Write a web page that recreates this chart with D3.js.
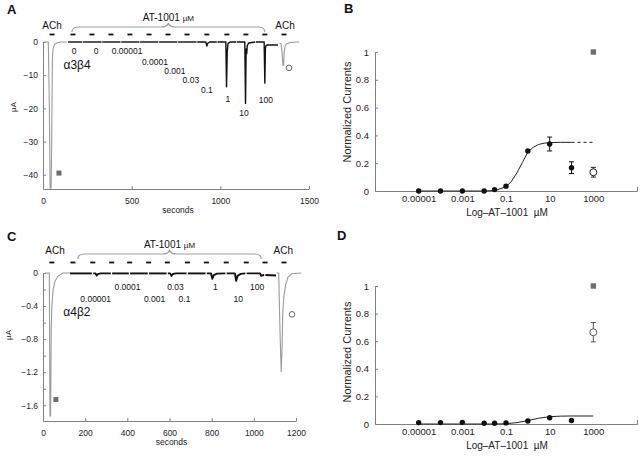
<!DOCTYPE html>
<html><head><meta charset="utf-8">
<script src="https://cdn.jsdelivr.net/npm/d3@7"></script>
<style>body{margin:0;background:#fff} text{font-family:"Liberation Sans",Arial,Helvetica,sans-serif}</style>
</head><body><svg id="c" width="640" height="456"></svg>
<script>
// ---------------- Panel A (alpha3beta4 trace) ----------------
const aTicksX = [0, 500, 1000, 1500];
const aTicksY = [0, -10, -20, -30, -40];
const aAChPre = [[5,0],[30,0],[36,-20],[40,-44],[46,-44],[49,-30],[53,-5],[57,-2],[65,-0.7],[80,-0.2],[100,0],[135,0]];
const aAT1001 = [
  [[141,0],[222,0]],
  [[226,0],[330,0]],
  [[334,0],[437,0]],
  [[441,0],[544,0]],
  [[548,0],[651,0]],
  [[655,0],[758,0]],
  [[762,0],[866,0]],
  [[870,0],[918,0],[924,-1.2],[930,-0.3],[940,0],[980,0]],
  [[984,0],[1031,0],[1035,-13.5],[1039,-3],[1043,-0.5],[1055,0],[1090,0]],
  [[1094,0],[1138,0],[1142,-18.5],[1145,-4],[1147,-2],[1149,-3.5],[1152,-1],[1160,-0.3],[1197,0]],
  [[1201,0],[1247,0],[1251,-12.4],[1254,-2],[1258,-1],[1265,-0.9],[1325,-0.9]]
];
const aAChPost = [[1334,-0.3],[1342,-0.6],[1348,-3],[1353,-7],[1357,-7],[1360,-3],[1365,-1.2],[1375,-0.5],[1395,-0.15],[1430,0],[1445,0]];
const aSquare = [[90, -39.5]];
const aCircle = [[1387, -7.8]];
const aDashes = [51,169,276,383,490,598,705,812,924,1037,1144,1251,1359];
const aConcLabels = ["0","0","0.00001","0.0001","0.001","0.03","0.1","1","10","100"];
const aConcT      = [175,299,474,631,744,834,924,1043,1133,1257];
const aConcI      = [-2.8,-2.8,-2.8,-6.0,-8.7,-11.4,-14.5,-17.2,-21.4,-17.5];
const aBrace = [163, 1251];
const aAChLabelT = [51, 1365];

// ---------------- Panel C (alpha4beta2 trace) ----------------
const cTicksX = [0, 200, 400, 600, 800, 1000, 1200];
const cTicksY = [0, -0.2, -0.4, -0.6, -0.8, -1.0, -1.2, -1.4, -1.6];
const cAChPre = [[10,0],[30,0],[33,-1.73],[36,-1.73],[39,-0.7],[42,-0.4],[48,-0.2],[57,-0.1],[70,-0.04],[94,0],[128,0]];
const cAT1001 = [
  [[128,-0.005],[232,-0.005]],
  [[238,-0.005],[249,-0.005],[255,-0.03],[262,-0.01],[275,-0.005],[322,-0.005]],
  [[328,-0.005],[407,-0.005]],
  [[413,-0.005],[497,-0.005]],
  [[503,-0.005],[586,-0.005]],
  [[592,-0.005],[603,-0.005],[609,-0.035],[616,-0.012],[630,-0.005],[681,-0.005]],
  [[687,-0.005],[771,-0.005]],
  [[777,-0.005],[797,-0.005],[803,-0.07],[810,-0.025],[825,-0.008],[865,-0.005]],
  [[871,-0.005],[910,-0.005],[916,-0.095],[923,-0.035],[938,-0.01],[960,-0.005]],
  [[966,-0.005],[1029,-0.005],[1035,-0.035],[1045,-0.025],[1049,-0.025]],
  [[1055,-0.025],[1105,-0.03]]
];
const cAChPost = [[1108,0],[1118,0],[1124,-0.7],[1130,-1.2],[1134,-0.9],[1137,-0.5],[1142,-0.3],[1150,-0.15],[1162,-0.05],[1180,-0.01],[1225,0]];
const cSquare = [[61, -1.53]];
const cCircle = [[1181, -0.5]];
const cDashes = [42,142,236,326,411,501,590,685,775,869,964,1053,1143];
const cConcLabels = ["0.0001","0.03","1","100","0.00001","0.001","0.1","10"];
const cConcT      = [401,628,817,1016,250,529,671,926];
const cConcI      = [-0.17,-0.17,-0.17,-0.17,-0.31,-0.31,-0.31,-0.31];
const cBrace = [165, 1035];
const cAChLabelT = [57, 1140];

// ---------------- Panels B & D (dose response) ----------------
const concUM = [0.00001, 0.0001, 0.001, 0.01, 0.03, 0.1, 1, 10, 100];
const doseTickVals = [0.00001, 0.001, 0.1, 10, 1000];
const doseTickLabels = ["0.00001", "0.001", "0.1", "10", "1000"];
const normTicks = [0, 0.2, 0.4, 0.6, 0.8, 1];

const bMean = [0, 0, 0, 0, 0.01, 0.035, 0.288, 0.338, 0.168];
const bErr  = [0, 0, 0, 0, 0, 0, 0, 0.05, 0.042];
const bAChPost = {conc: 1000, mean: 0.135, err: 0.035};
const bAChPre  = {conc: 1000, mean: 1.0};
const bFitLogX = [-5, -2, -1.5, -1, -0.75, -0.5, -0.25, 0, 0.25, 0.5, 0.75, 1, 1.5, 2];
const bFitY    = [0, 0, 0.004, 0.03, 0.07, 0.13, 0.205, 0.28, 0.315, 0.335, 0.344, 0.348, 0.35, 0.35];
const bExtLogX = [2, 3];
const bExtY    = [0.35, 0.35];

const dMean = [0.01, 0.01, 0.012, 0.005, 0.005, 0.008, 0.022, 0.045, 0.025];
const dErr  = [0, 0, 0, 0, 0, 0, 0, 0, 0];
const dAChPost = {conc: 1000, mean: 0.665, err: 0.07};
const dAChPre  = {conc: 1000, mean: 1.0};
const dFitLogX = [-5, -1.5, -1, -0.5, 0, 0.5, 1, 1.5, 2, 3];
const dFitY    = [0, 0, 0.002, 0.01, 0.025, 0.042, 0.053, 0.057, 0.058, 0.058];

// ---------------- drawing ----------------
const svg = d3.select("#c");
svg.append("rect").attr("width", 640).attr("height", 456).attr("fill", "#fff");
const AX = "#808080";

function styleAxis(sel, fs) {
  sel.selectAll("path,line").attr("stroke", AX).attr("stroke-width", 1);
  sel.selectAll("text").attr("font-size", fs).attr("fill", "#222").attr("font-family", '"Liberation Sans",Arial,sans-serif');
}

function tracePanel(c) {
  const g = svg.append("g");
  const x = d3.scaleLinear().domain(c.xDomain).range(c.xRange);
  const y = d3.scaleLinear().domain(c.yDomain).range(c.yRange);
  const xa = g.append("g").attr("transform", `translate(0,${c.yRange[0]})`)
    .call(d3.axisBottom(x).tickValues(c.xTicks).tickSizeInner(-3).tickSizeOuter(0).tickPadding(9).tickFormat(d3.format("d")));
  styleAxis(xa, 8.5);
  const ya = g.append("g").attr("transform", `translate(${c.xRange[0]},0)`)
    .call(d3.axisLeft(y).tickValues(c.yTicks).tickSizeInner(-3).tickSizeOuter(0).tickPadding(5).tickFormat(c.yFmt));
  styleAxis(ya, 8.5);
  g.append("text").attr("x", (c.xRange[0] + c.xRange[1]) / 2 + 2).attr("y", c.yRange[0] + 24)
    .attr("text-anchor", "middle").attr("font-size", 8.5).attr("fill", "#222").text("seconds");
  g.append("text").attr("transform", `translate(${c.uaX},${c.uaY}) rotate(-90)`)
    .attr("text-anchor", "middle").attr("dominant-baseline", "central").attr("font-size", 8).attr("fill", "#222").text("µA");
  const line = d3.line().x(d => x(d[0])).y(d => y(d[1]));
  g.append("path").attr("d", line(c.pre)).attr("fill", "none").attr("stroke", "#9a9a9a").attr("stroke-width", 1.1);
  g.append("path").attr("d", line(c.post)).attr("fill", "none").attr("stroke", "#9a9a9a").attr("stroke-width", 1.1);
  c.at.forEach(seg => g.append("path").attr("d", line(seg)).attr("fill", "none").attr("stroke", "#111").attr("stroke-width", c.atWidth).attr("stroke-linejoin", "round"));
  c.square.forEach(d => g.append("rect").attr("x", x(d[0]) - 2.5).attr("y", y(d[1]) - 2.5).attr("width", 5).attr("height", 5).attr("fill", "#6e6e6e"));
  c.circle.forEach(d => g.append("circle").attr("cx", x(d[0])).attr("cy", y(d[1])).attr("r", 2.8).attr("fill", "#fff").attr("stroke", "#555").attr("stroke-width", 0.9));
  c.dashes.forEach(t => g.append("line").attr("x1", x(t) - 2.5).attr("x2", x(t) + 2.5).attr("y1", c.dashY).attr("y2", c.dashY).attr("stroke", "#111").attr("stroke-width", 1.8));
  c.labels.forEach((s, i) => g.append("text").attr("x", x(c.labT[i])).attr("y", y(c.labI[i])).attr("text-anchor", "middle")
    .attr("dominant-baseline", "central").attr("font-size", 8.5).attr("fill", "#111").text(s));
  // receptor name
  g.append("text").attr("x", x(c.rec[1])).attr("y", y(c.rec[2])).attr("text-anchor", "middle").attr("dominant-baseline", "central")
    .attr("font-family", '"Liberation Serif","DejaVu Serif",serif').attr("font-size", 12).attr("fill", "#111").text(c.rec[0]);
  // brace
  const bx0 = x(c.brace[0]), bx1 = x(c.brace[1]), bm = (bx0 + bx1) / 2, by = c.braceY;
  g.append("path").attr("d", `M${bx0},${by + 5} Q${bx0},${by} ${bx0 + 7},${by} L${bm - 7},${by} Q${bm - 1},${by} ${bm},${by - 4} Q${bm + 1},${by} ${bm + 7},${by} L${bx1 - 7},${by} Q${bx1},${by} ${bx1},${by + 5}`)
    .attr("fill", "none").attr("stroke", "#a0a0a0").attr("stroke-width", 1.2);
  g.append("text").attr("x", bm).attr("y", by - 6).attr("text-anchor", "middle").attr("font-size", 10).attr("fill", "#111")
    .text("AT-1001 ").append("tspan").attr("font-size", 8).text("µM");
  c.achT.forEach(t => g.append("text").attr("x", x(t)).attr("y", c.achY).attr("text-anchor", "middle").attr("font-size", 10).attr("fill", "#111").text("ACh"));
  // panel letter
  g.append("text").attr("x", c.letter[1]).attr("y", c.letter[2]).attr("font-weight", "bold").attr("font-size", 13).attr("fill", "#111").text(c.letter[0]);
}

tracePanel({
  xDomain: [0, 1500], xRange: [43, 309], yDomain: [-44.3, 0], yRange: [189, 42],
  xTicks: aTicksX, yTicks: aTicksY, yFmt: d3.format("d"),
  uaX: 13, uaY: 107,
  pre: aAChPre, post: aAChPost, at: aAT1001, atWidth: 1.4,
  square: aSquare, circle: aCircle, dashes: aDashes, dashY: 34.5,
  labels: aConcLabels, labT: aConcT, labI: aConcI,
  rec: ["α3β4", 192, -7.0],
  brace: aBrace, braceY: 27, achT: aAChLabelT, achY: 29,
  letter: ["A", 7, 14]
});

tracePanel({
  xDomain: [0, 1200], xRange: [43, 296], yDomain: [-1.79, 0], yRange: [421, 273],
  xTicks: cTicksX, yTicks: cTicksY, yFmt: d => (Math.abs(d * 10) % 4 === 0 ? (d === 0 ? "0" : d3.format(".1f")(d)) : ""),
  uaX: 8, uaY: 335,
  pre: cAChPre, post: cAChPost, at: cAT1001, atWidth: 1.9,
  square: cSquare, circle: cCircle, dashes: cDashes, dashY: 262.5,
  labels: cConcLabels, labT: cConcT, labI: cConcI,
  rec: ["α4β2", 161, -0.47],
  brace: cBrace, braceY: 254, achT: cAChLabelT, achY: 254,
  letter: ["C", 7, 241]
});

function dosePanel(c) {
  const g = svg.append("g");
  const x = d3.scaleLinear().domain([-7, 5]).range([375, 637]);
  const y = d3.scaleLinear().domain([0, 1]).range(c.yRange);
  const lx = v => x(Math.log10(v));
  const xa = g.append("g").attr("transform", `translate(0,${c.yRange[0]})`)
    .call(d3.axisBottom(x).tickValues(doseTickVals.map(Math.log10)).tickSizeInner(0).tickSizeOuter(-4).tickPadding(4)
      .tickFormat((d, i) => doseTickLabels[i]));
  styleAxis(xa, 9.5);
  const ya = g.append("g").attr("transform", "translate(375,0)")
    .call(d3.axisLeft(y).tickValues(normTicks).tickSizeInner(-3).tickSizeOuter(0).tickPadding(6)
      .tickFormat(d => (d === 0 || d === 1) ? String(d) : d3.format(".1f")(d)));
  styleAxis(ya, 9.5);
  g.append("text").attr("x", 507).attr("y", c.yRange[0] + 25).attr("text-anchor", "middle").attr("font-size", 10).attr("fill", "#222")
    .text("Log\u2013AT\u20131001\u00A0 µM");
  g.append("text").attr("transform", `translate(347,${c.titleY}) rotate(-90)`).attr("text-anchor", "middle")
    .attr("dominant-baseline", "central").attr("font-size", 11).attr("fill", "#222").text("Normalized Currents");
  const line = d3.line().x(d => x(d[0])).y(d => y(d[1]));
  g.append("path").attr("d", line(c.fitX.map((v, i) => [v, c.fitY[i]]))).attr("fill", "none").attr("stroke", "#222").attr("stroke-width", 1);
  if (c.extX) g.append("path").attr("d", line(c.extX.map((v, i) => [v, c.extY[i]]))).attr("fill", "none").attr("stroke", "#222").attr("stroke-width", 1).attr("stroke-dasharray", "3,3");
  // error bars
  const eb = (cx, m, e, col) => {
    if (!e) return;
    g.append("line").attr("x1", cx).attr("x2", cx).attr("y1", y(m - e)).attr("y2", y(m + e)).attr("stroke", col).attr("stroke-width", 1);
    [m - e, m + e].forEach(v => g.append("line").attr("x1", cx - 2.5).attr("x2", cx + 2.5).attr("y1", y(v)).attr("y2", y(v)).attr("stroke", col).attr("stroke-width", 1));
  };
  concUM.forEach((cc, i) => eb(lx(cc), c.mean[i], c.err[i], "#111"));
  concUM.forEach((cc, i) => g.append("circle").attr("cx", lx(cc)).attr("cy", y(c.mean[i])).attr("r", 2.7).attr("fill", "#111"));
  eb(lx(c.post.conc), c.post.mean, c.post.err, c.postCol);
  g.append("circle").attr("cx", lx(c.post.conc)).attr("cy", y(c.post.mean)).attr("r", 3.5).attr("fill", "#fff").attr("stroke", c.postCol).attr("stroke-width", 1);
  g.append("rect").attr("x", lx(c.pre.conc) - 2.7).attr("y", y(c.pre.mean) - 2.7).attr("width", 5.4).attr("height", 5.4).attr("fill", "#6e6e6e");
  g.append("text").attr("x", c.letter[1]).attr("y", c.letter[2]).attr("font-weight", "bold").attr("font-size", 13).attr("fill", "#111").text(c.letter[0]);
}

dosePanel({ yRange: [191, 52], mean: bMean, err: bErr, post: bAChPost, pre: bAChPre, postCol: "#222",
  fitX: bFitLogX, fitY: bFitY, extX: bExtLogX, extY: bExtY, titleY: 112, letter: ["B", 344, 13] });
dosePanel({ yRange: [424, 286], mean: dMean, err: dErr, post: dAChPost, pre: dAChPre, postCol: "#555",
  fitX: dFitLogX, fitY: dFitY, extX: null, titleY: 352, letter: ["D", 337, 240] });
</script></body></html>
